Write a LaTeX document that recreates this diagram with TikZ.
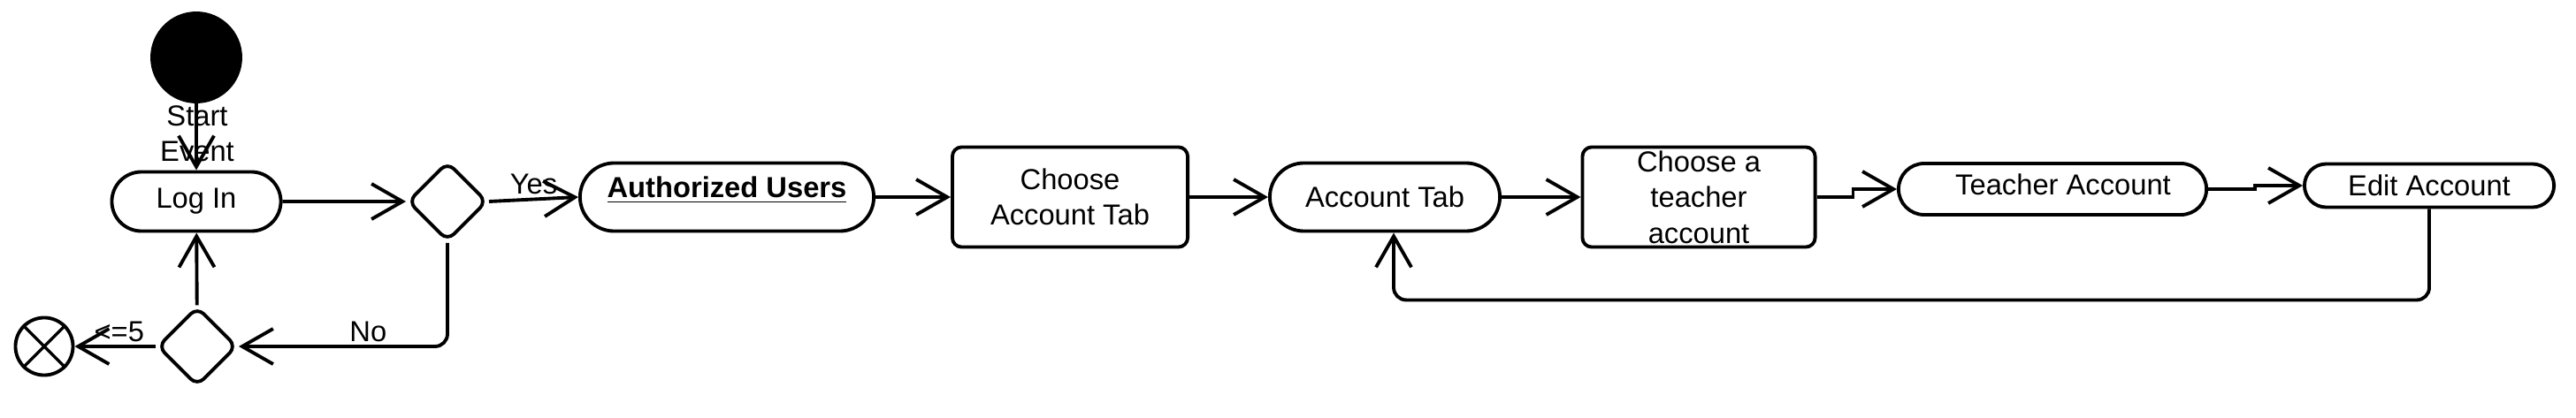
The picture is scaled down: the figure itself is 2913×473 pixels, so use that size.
\documentclass[tikz,border=0pt]{standalone}
\usepackage{fontspec}
\setmainfont{Liberation Sans}
\usetikzlibrary{arrows.meta,shapes.geometric,shapes.misc}

\tikzset{
  >={Straight Barb[length=0.35cm,width=0.4cm]},
  every node/.style={font=\fontsize{9.3}{11.5}\selectfont},
  actbox/.style={draw, rounded rectangle, inner sep=0pt, align=center},
  stepbox/.style={draw, rectangle, rounded corners=3pt, inner sep=0pt, align=center},
  choice/.style={draw, diamond, rounded corners=3pt, inner sep=0pt,
    minimum width=0.9cm, minimum height=0.9cm},
  guard/.style={above, inner sep=1pt},
}

\begin{document}
\begin{tikzpicture}[x=0.01cm, y=-0.01cm, line width=1.1pt]
        % --- Frame ---
        \useasboundingbox (0,0) rectangle (2913,473);
        % --- Start and end ---
        \node[draw, fill=black, circle, minimum size=1cm, inner sep=0pt] (start) at (222,65) {};
        \node[align=center] (startlbl) at (223,151) {Start\\Event};
        \node[draw, circle, minimum size=0.65cm, inner sep=0pt] (final) at (50,392) {};
        \draw[line width=1pt] (final.45) -- (final.225) (final.135) -- (final.-45);
        % --- Log in and checks ---
        \node[actbox, minimum width=1.91cm, minimum height=0.67cm] (login) at (222,228) {Log In};
        \node[choice] (dec1) at (506,228) {};
        \node[choice] (dec2) at (223,392) {};
        % --- Main row ---
        \node[actbox, minimum width=3.32cm, minimum height=0.77cm,
              text height=0.25cm, text depth=0.25cm] (authusers) at (822,223)
              {\underline{\textbf{Authorized Users}}};
        \node[stepbox, minimum width=2.66cm, minimum height=1.13cm] (choosetab) at (1210,223)
              {Choose\\Account Tab};
        \node[actbox, minimum width=2.6cm, minimum height=0.77cm] (accounttab) at (1566,223) {Account Tab};
        \node[stepbox, minimum width=2.63cm, minimum height=1.13cm] (chooseteacher) at (1921,223)
              {Choose a\\teacher\\account};
        \node[actbox, minimum width=3.48cm, minimum height=0.58cm,
              text height=0.3cm, text depth=0.18cm] (teacheracc) at (2321,214) {\hspace{0.24cm}Teacher Account};
        \node[actbox, minimum width=2.82cm, minimum height=0.49cm] (editacc) at (2747,210) {Edit Account};

        % --- Flow ---
        \draw[->] (start) -- (login);
        \draw[->] (login) -- (dec1);
        \draw[->] (dec1.east) -- (authusers.west) node[midway, guard] {Yes};
        \draw[->, rounded corners=4pt] (dec1.south) |- (dec2.east) node[pos=0.69, guard] {No};
        \draw[->] (dec2) -- (login);
        \draw[->] (dec2) -- (final) node[pos=0.45, guard] {<=5};
        \draw[->] (authusers) -- (choosetab);
        \draw[->] (choosetab) -- (accounttab);
        \draw[->] (accounttab) -- (chooseteacher);
        \draw[->] (chooseteacher.east) -- ++(41,0) |- (teacheracc.west);
        \draw[->] (teacheracc.east) -- ++(53,0) |- (editacc.west);
        \draw[->, rounded corners=4pt] (editacc.south) -- ++(0,103) -| ([xshift=0.1cm]accounttab.south);
        \end{tikzpicture}
\end{document}
